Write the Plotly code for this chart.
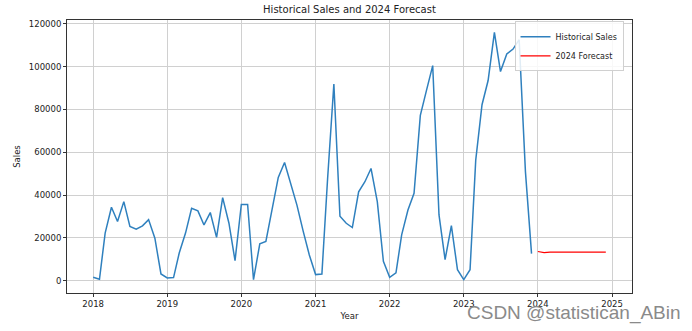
import pandas as pd
import plotly.graph_objects as go

# Monthly historical sales, Jan 2018 - Dec 2023
hist_months = pd.date_range("2018-01-01", "2023-12-01", freq="MS")
hist_sales = [
    1550, 620, 22200, 34300, 27600, 36900, 25300, 24000, 25600, 28500, 19800, 3100,
    1240, 1400, 12900, 22200, 33800, 32600, 26000, 31800, 20200, 38800, 26800, 9300,
    35600, 35600, 470, 17200, 18300, 33000, 48200, 55200, 45400, 35300, 23000, 12000,
    2800, 3100, 47500, 91900, 30100, 26800, 24800, 41500, 46200, 52400, 36900, 9000,
    1550, 3600, 21400, 33000, 40800, 77200, 88800, 100500, 30700, 9800, 25700, 5100,
    460, 5100, 56300, 82200, 93500, 116000, 97700, 105900, 108200, 112600, 50800, 12600,
]

# 2024 monthly forecast
fc_months = pd.date_range("2024-01-01", "2024-12-01", freq="MS")
fc_sales = [13600, 13100, 13300, 13300, 13300, 13300, 13300, 13300, 13300, 13300, 13300, 13300]

y_ticks = [0, 20000, 40000, 60000, 80000, 100000, 120000]

FONT = "DejaVu Sans"

fig = go.Figure()
fig.add_trace(go.Scatter(x=hist_months, y=hist_sales, mode="lines", name="Historical Sales",
                         line=dict(color="#2f80be", width=1.5)))
fig.add_trace(go.Scatter(x=fc_months, y=fc_sales, mode="lines", name="2024 Forecast",
                         line=dict(color="red", width=1.2)))

axis_common = dict(showline=True, linecolor="#333", linewidth=1, mirror=True,
                   showgrid=True, gridcolor="#d0d0d0", gridwidth=1, zeroline=False,
                   ticks="outside", ticklen=3, tickcolor="#333",
                   tickfont=dict(family=FONT, size=8.5, color="#222"))

fig.update_layout(
    width=692, height=331,
    margin=dict(l=67, r=60, t=20, b=38),
    paper_bgcolor="white", plot_bgcolor="white",
    title=dict(text="Historical Sales and 2024 Forecast", x=0.505, xanchor="center",
               y=0.97, yanchor="middle", font=dict(family=FONT, size=10, color="#222")),
    xaxis=dict(axis_common, type="date", range=["2017-08-25", "2025-04-09"],
               tick0="2018-01-01", dtick="M12", tickformat="%Y",
               title=dict(text="Year", standoff=4, font=dict(family=FONT, size=8.5, color="#222"))),
    yaxis=dict(axis_common, range=[-5800, 121800], tickvals=y_ticks,
               ticktext=[str(v) for v in y_ticks],
               title=dict(text="Sales", standoff=6, font=dict(family=FONT, size=8.5, color="#222"))),
    legend=dict(x=0.985, y=0.995, xanchor="right", yanchor="top",
                bgcolor="rgba(255,255,255,0.85)", bordercolor="#d0d0d0", borderwidth=1,
                font=dict(family=FONT, size=8, color="#222"), tracegroupgap=0,
                itemwidth=30),
    showlegend=True,
)

fig.add_annotation(text="CSDN @statistican_ABin", xref="paper", yref="paper",
                   x=1.09, y=-0.075, xanchor="right", yanchor="middle", showarrow=False,
                   font=dict(family="Liberation Sans Narrow, Liberation Sans", size=19, color="#8a8a8a"))

fig.write_html("out.html")
